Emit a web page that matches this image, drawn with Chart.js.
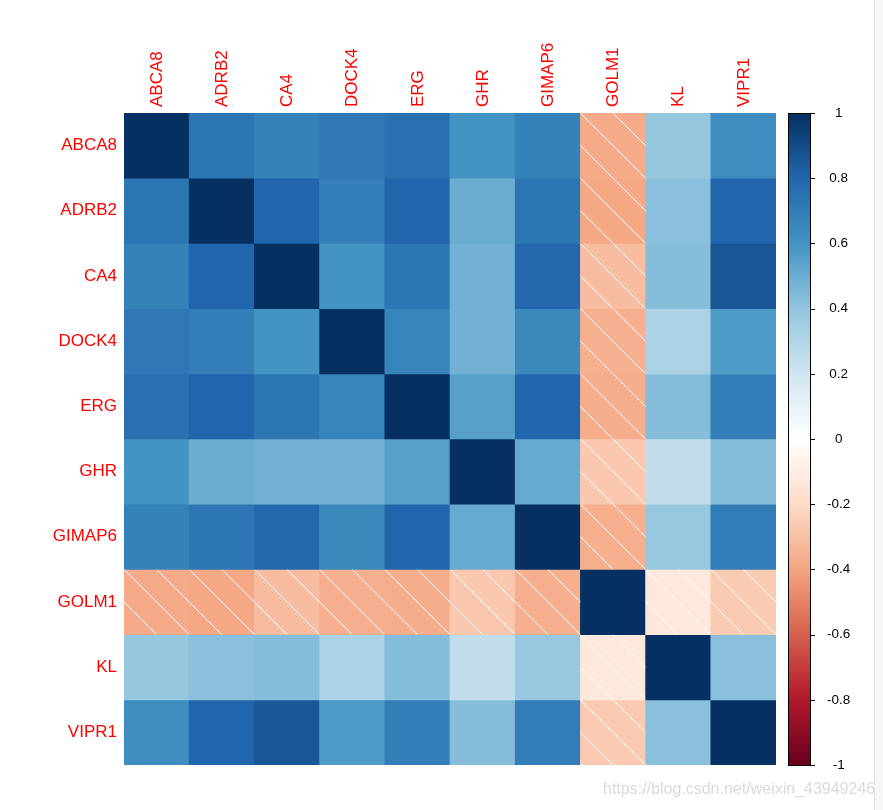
<!DOCTYPE html>
<html><head><meta charset="utf-8">
<script src="https://cdn.jsdelivr.net/npm/chart.js@4.4.0/dist/chart.umd.min.js"></script>
<style>
html,body{margin:0;padding:0;background:#fff;width:883px;height:810px;overflow:hidden;}
#wrap{position:relative;width:883px;height:810px;}
canvas{position:absolute;left:0;top:0;}
#wm{position:absolute;left:603px;top:780px;font:16px "Liberation Sans",Arial,sans-serif;color:#dadada;white-space:nowrap;}
#sb{position:absolute;left:874px;top:0;width:9px;height:810px;background:#f7f7f7;border-left:1px solid #dde1e6;}
</style></head><body>
<div id="wrap"><canvas id="c" width="883" height="810"></canvas><div id="wm">https://blog.csdn.net/weixin_43949246</div><div id="sb"></div></div>
<script>
const genes = ['ABCA8','ADRB2','CA4','DOCK4','ERG','GHR','GIMAP6','GOLM1','KL','VIPR1'];
const rowABCA8  = [ 1.00,  0.73,  0.68,  0.72,  0.75,  0.60,  0.68, -0.38,  0.39,  0.63];
const rowADRB2  = [ 0.73,  1.00,  0.80,  0.69,  0.80,  0.50,  0.73, -0.39,  0.42,  0.80];
const rowCA4    = [ 0.68,  0.80,  1.00,  0.60,  0.73,  0.48,  0.79, -0.31,  0.43,  0.86];
const rowDOCK4  = [ 0.72,  0.69,  0.60,  1.00,  0.67,  0.48,  0.65, -0.36,  0.32,  0.57];
const rowERG    = [ 0.75,  0.80,  0.73,  0.67,  1.00,  0.55,  0.80, -0.37,  0.43,  0.69];
const rowGHR    = [ 0.60,  0.50,  0.48,  0.48,  0.55,  1.00,  0.51, -0.27,  0.25,  0.43];
const rowGIMAP6 = [ 0.68,  0.73,  0.79,  0.65,  0.80,  0.51,  1.00, -0.36,  0.38,  0.70];
const rowGOLM1  = [-0.38, -0.39, -0.31, -0.36, -0.37, -0.27, -0.36,  1.00, -0.13, -0.26];
const rowKL     = [ 0.39,  0.42,  0.43,  0.32,  0.43,  0.25,  0.38, -0.13,  1.00,  0.42];
const rowVIPR1  = [ 0.63,  0.80,  0.86,  0.57,  0.69,  0.43,  0.70, -0.26,  0.42,  1.00];
const matrix = [rowABCA8,rowADRB2,rowCA4,rowDOCK4,rowERG,rowGHR,rowGIMAP6,rowGOLM1,rowKL,rowVIPR1];

const colorbarTicks  = [1, 0.8, 0.6, 0.4, 0.2, 0, -0.2, -0.4, -0.6, -0.8, -1];
const colorbarLabels = ['1','0.8','0.6','0.4','0.2','0','-0.2','-0.4','-0.6','-0.8','-1'];
// RdBu palette from -1 to 1
const palette = ['#67001F','#B2182B','#D6604D','#F4A582','#FDDBC7','#FFFFFF','#D1E5F0','#92C5DE','#4393C3','#2166AC','#053061'];

function hex2rgb(h){return [parseInt(h.slice(1,3),16),parseInt(h.slice(3,5),16),parseInt(h.slice(5,7),16)];}
function colorFor(v){
  const t = (v + 1) / 2 * (palette.length - 1);
  const i = Math.min(palette.length - 2, Math.floor(t));
  const f = t - i;
  const a = hex2rgb(palette[i]), b = hex2rgb(palette[i+1]);
  const c = a.map((x,k)=>Math.round(x + (b[k]-x)*f));
  return 'rgb(' + c.join(',') + ')';
}

const datasets = matrix.map((row, r) => ({
  label: genes[r],
  data: row.map(() => [r, r + 1]),
  corr: row,
  backgroundColor: row.map(v => colorFor(v)),
  borderWidth: 0,
  grouped: false,
  barPercentage: 1,
  categoryPercentage: 1,
  xAxisID: 'x',
  yAxisID: 'y'
}));

const hatchPlugin = {
  id: 'hatch',
  afterDatasetsDraw(chart) {
    const ctx = chart.ctx;
    chart.data.datasets.forEach((ds, di) => {
      const meta = chart.getDatasetMeta(di);
      meta.data.forEach((el, j) => {
        if (ds.corr[j] >= 0) return;
        const p = el.getProps(['x','y','base','width'], true);
        const left = p.x - p.width / 2, top = Math.min(p.y, p.base);
        const w = p.width, h = Math.abs(p.base - p.y);
        ctx.save();
        ctx.beginPath(); ctx.rect(left, top, w, h); ctx.clip();
        ctx.strokeStyle = '#ffffff'; ctx.lineWidth = 1;
        ctx.beginPath();
        for (let k = -2; k <= 2; k++) {
          const c = k * w / 2;
          ctx.moveTo(left + c, top);
          ctx.lineTo(left + c + h, top + h);
        }
        ctx.stroke();
        ctx.restore();
      });
    });
  }
};

const colorbarPlugin = {
  id: 'colorbar',
  afterDraw(chart) {
    const ctx = chart.ctx, s = chart.scales.y2;
    const top = s.getPixelForValue(1), bottom = s.getPixelForValue(-1);
    const x0 = chart.chartArea.right + 12, bw = 22;
    const g = ctx.createLinearGradient(0, bottom, 0, top);
    palette.forEach((c, i) => g.addColorStop(i / (palette.length - 1), c));
    ctx.save();
    ctx.fillStyle = g;
    ctx.fillRect(x0, top, bw, bottom - top);
    ctx.strokeStyle = '#000'; ctx.lineWidth = 1;
    ctx.strokeRect(x0 + 0.5, Math.round(top) + 0.5, bw, Math.round(bottom - top));
    ctx.beginPath();
    colorbarTicks.forEach(v => {
      const y = Math.round(s.getPixelForValue(v)) + 0.5;
      ctx.moveTo(x0 + bw, y); ctx.lineTo(x0 + bw + 5, y);
    });
    ctx.stroke();
    ctx.restore();
  }
};

function noVPad(s) { s.paddingTop = 0; s.paddingBottom = 0; }

new Chart(document.getElementById('c'), {
  type: 'bar',
  data: { labels: genes, datasets },
  options: {
    responsive: false,
    devicePixelRatio: 1,
    animation: false,
    layout: { padding: { top: 0, left: 0, right: 0, bottom: 45 } },
    plugins: { legend: { display: false }, tooltip: { enabled: false } },
    scales: {
      x: {
        type: 'category', position: 'top',
        grid: { display: false, drawTicks: false }, border: { display: false },
        ticks: { color: '#ff0000', font: { family: '"Liberation Sans", Arial, sans-serif', size: 17 },
                 minRotation: 90, maxRotation: 90, autoSkip: false, padding: 6, labelOffset: 21 },
        afterFit(s) { s.height = 113; s.paddingLeft = 0; s.paddingRight = 0; }
      },
      y: {
        type: 'linear', position: 'left', min: 0, max: 10, reverse: true,
        grid: { display: false, drawTicks: false }, border: { display: false },
        afterBuildTicks(s) { s.ticks = genes.map((g, i) => ({ value: i + 0.5 })); },
        ticks: { color: '#ff0000', font: { family: '"Liberation Sans", Arial, sans-serif', size: 17 },
                 padding: 7, autoSkip: false, callback: (v, i) => genes[i] },
        afterFit(s) { s.width = 124; noVPad(s); }
      },
      y2: {
        type: 'linear', position: 'right', min: -1, max: 1,
        grid: { display: false, drawTicks: false }, border: { display: false },
        afterBuildTicks(s) { s.ticks = colorbarTicks.map(v => ({ value: v })); },
        ticks: { color: '#000000', font: { family: '"Liberation Sans", Arial, sans-serif', size: 13.5 },
                 padding: 51, crossAlign: 'center', autoSkip: false, callback: (v, i) => colorbarLabels[i] },
        afterFit(s) { s.width = 107; noVPad(s); }
      }
    }
  },
  plugins: [hatchPlugin, colorbarPlugin]
});
</script>
</body></html>
